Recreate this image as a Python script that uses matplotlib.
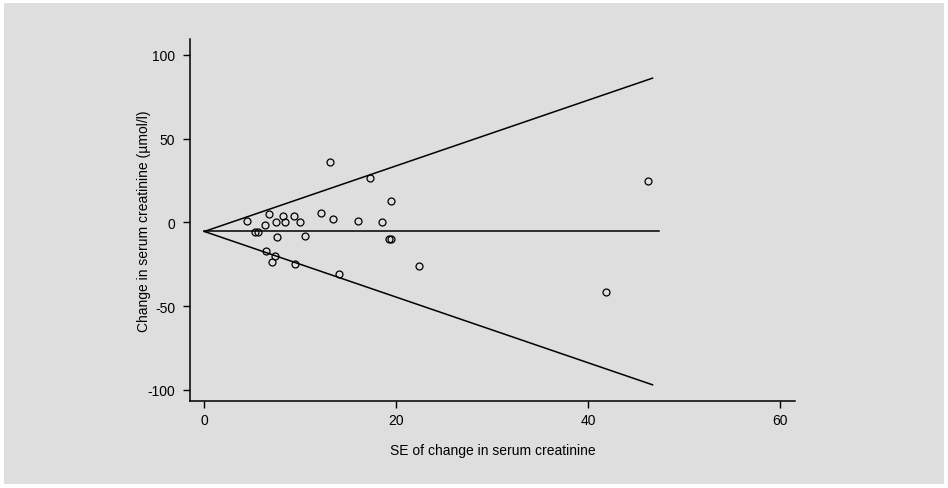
import matplotlib
matplotlib.use('Agg')
import matplotlib.pyplot as plt
from matplotlib.patches import Rectangle
import numpy as np

plt.rcParams['font.family'] = ['Liberation Sans', 'DejaVu Sans']
plt.rcParams['axes.unicode_minus'] = False

# standard error of change vs change in serum creatinine (umol/l)
se = [4.4, 5.3, 5.6, 6.3, 6.7, 6.4, 7.4, 7.0, 7.5, 7.6,
      8.2, 8.4, 9.3, 10.0, 9.4, 10.5, 13.1, 17.3, 19.5, 12.2,
      13.4, 16.0, 18.5, 19.2, 19.4, 22.4, 14.0, 46.2, 41.9]
change = [0.9, -5.6, -5.6, -1.6, 4.9, -16.9, -20.2, -23.8, 0.4, -8.9,
          3.8, 0.4, 3.8, 0.4, -25.0, -8.3, 35.9, 26.8, 12.9, 5.7,
          1.8, 1.0, 0.4, -10.1, -10.1, -26.2, -31.0, 24.8, -41.3]

pooled = -5.4      # pooled mean change
z = 1.96           # pseudo 95% limits
se_max = 46.7      # end of funnel lines
se_max_mean = 47.4 # end of mean line

xticks = [0, 20, 40, 60]
yticks = [-100, -50, 0, 50, 100]

fig = plt.figure(figsize=(9.48, 4.89), dpi=100)
fig.patch.set_facecolor('white')
fig.patches.append(Rectangle((4 / 948, 4 / 489), 940 / 948, 481 / 489,
                             transform=fig.transFigure, facecolor='#dedede',
                             edgecolor='none', zorder=-10))

ax = fig.add_axes([0.2008, 0.1769, 0.6373, 0.7413])
ax.set_facecolor('none')

s = np.array([0, se_max])
ax.plot(s, pooled + z * s, color='black', lw=1.1)
ax.plot(s, pooled - z * s, color='black', lw=1.1)
ax.plot([0, se_max_mean], [pooled, pooled], color='black', lw=1.1)

ax.plot(se, change, 'o', mfc='none', mec='black', ms=5, mew=0.9)

ax.set_xlim(-1.46, 61.5)
ax.set_ylim(-106.9, 109.5)
ax.set_xticks(xticks)
ax.set_yticks(yticks)
for sp in ['top', 'right']:
    ax.spines[sp].set_visible(False)
for sp in ['left', 'bottom']:
    ax.spines[sp].set_linewidth(1.1)
ax.tick_params(axis='y', length=5, width=1, labelsize=10, pad=6)
ax.tick_params(axis='x', length=5, width=1, labelsize=10, pad=3)

ax.set_xlabel('SE of change in serum creatinine', fontsize=10, labelpad=12)
ax.set_ylabel('Change in serum creatinine (\u00b5mol/l)', fontsize=10, labelpad=-3)

fig.savefig('out.png', dpi=100)
